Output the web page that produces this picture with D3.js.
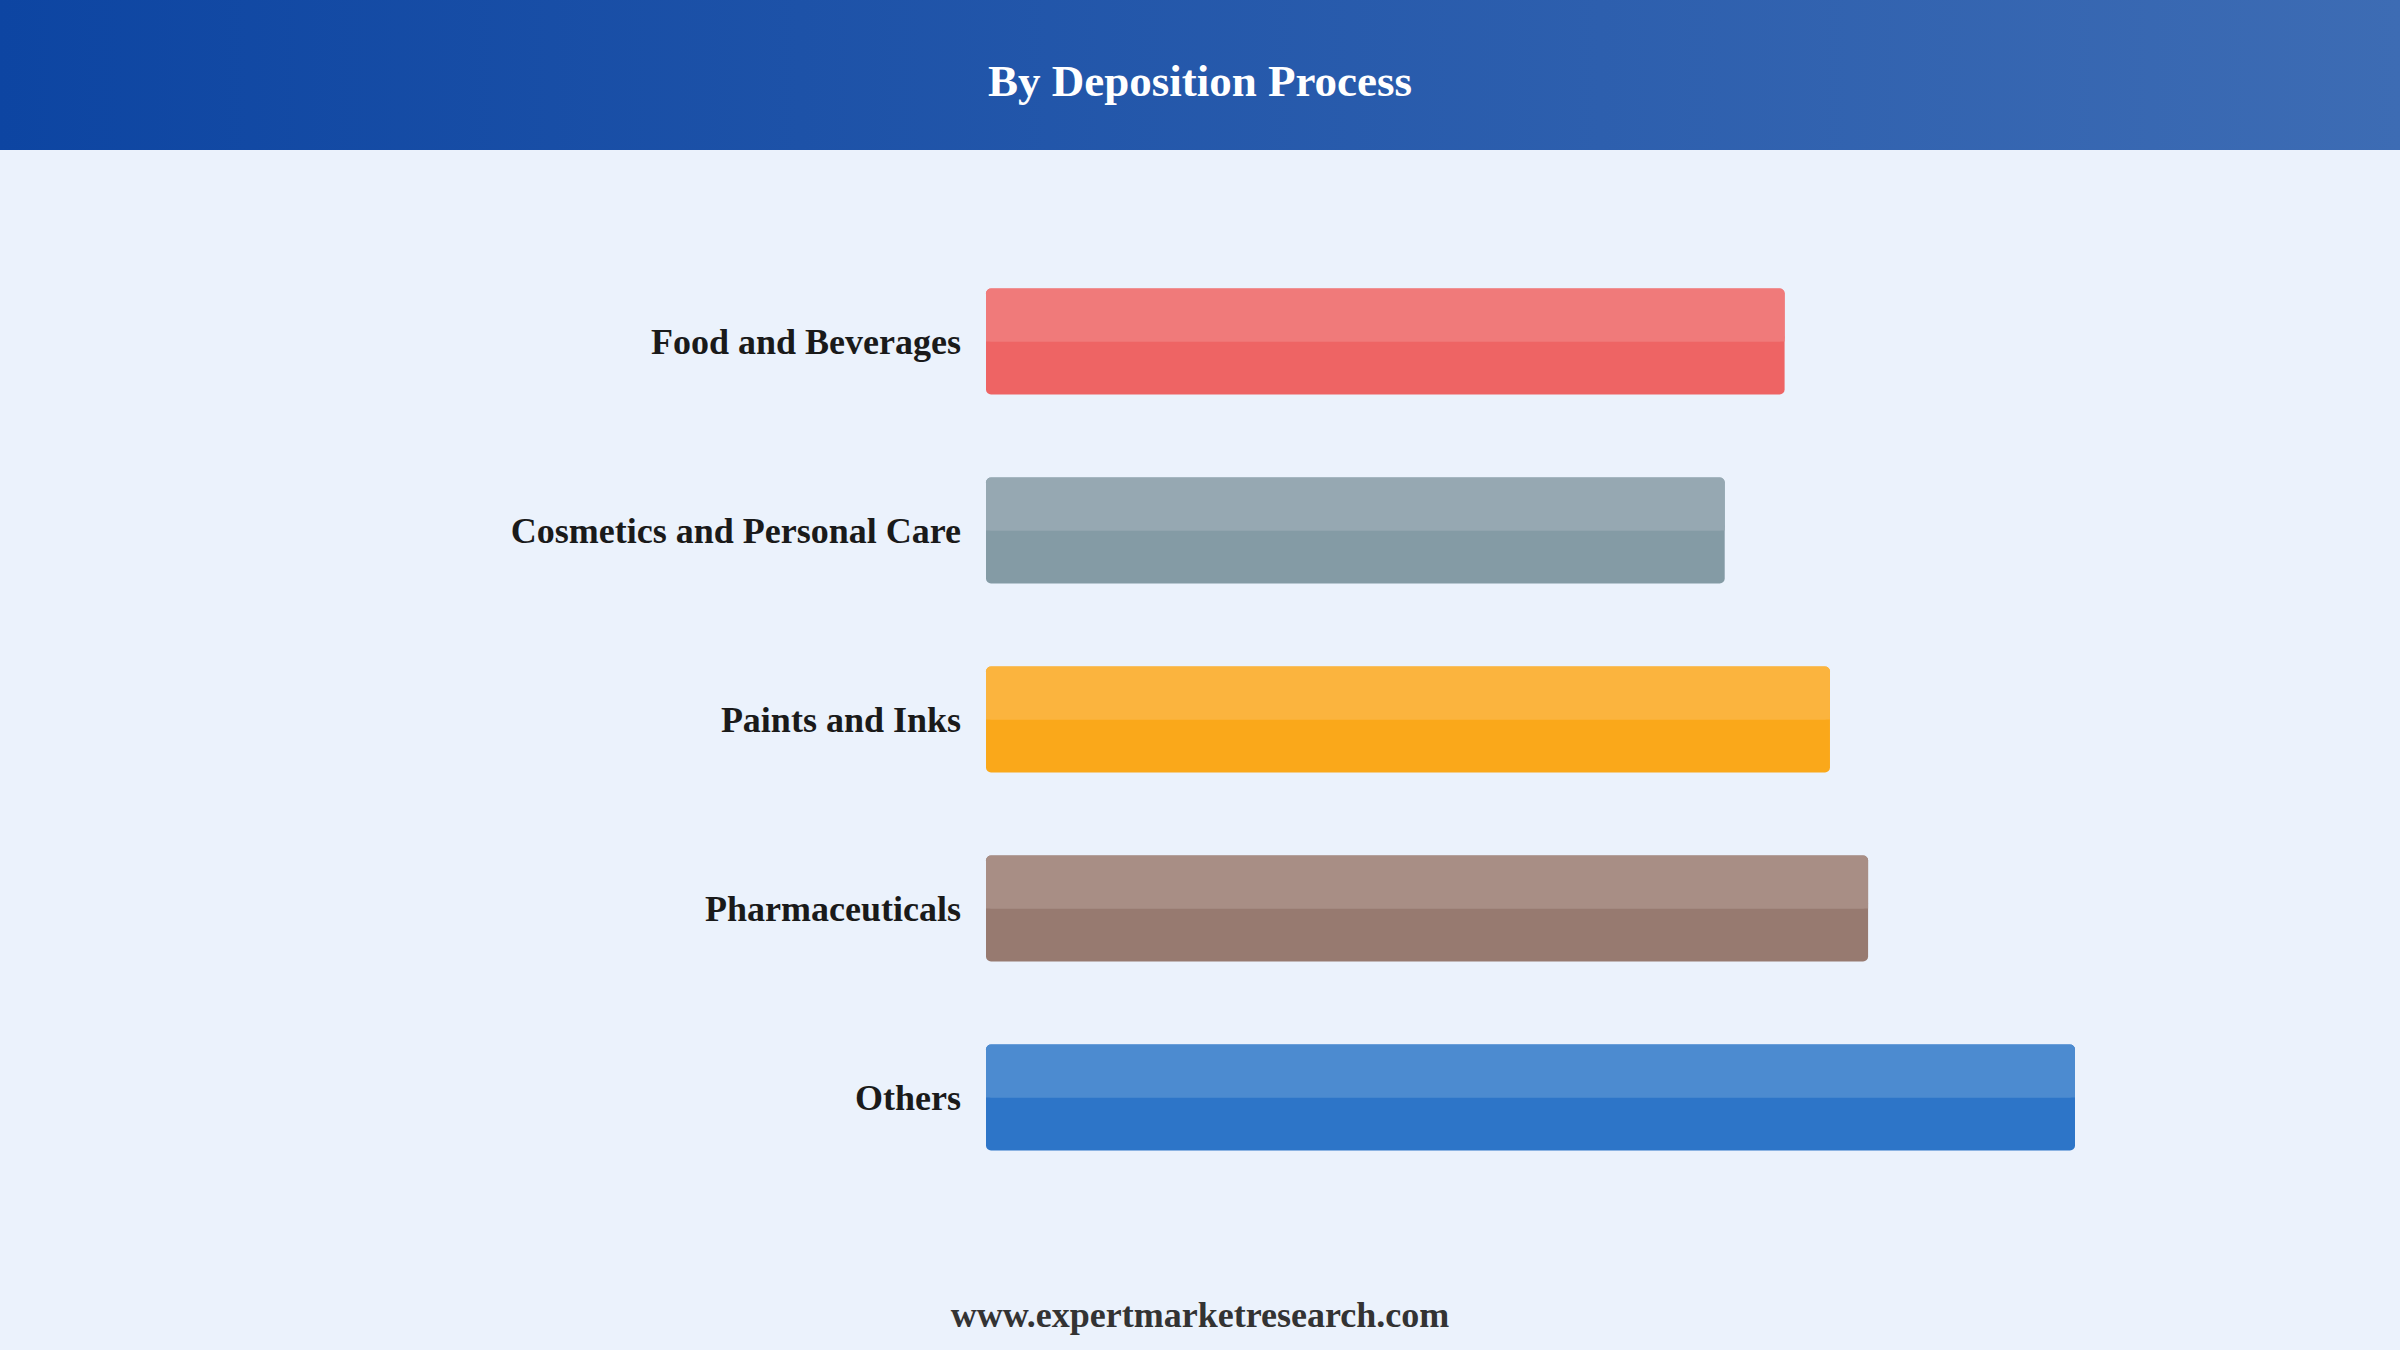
<!DOCTYPE html>
<html><head><meta charset="utf-8">
<script src="https://cdn.jsdelivr.net/npm/d3@7"></script>
<style>html,body{margin:0;padding:0;background:#EBF2FC;}svg{display:block;}</style>
</head><body>
<svg id="c" width="2400" height="1350"></svg>
<script>
const categories = ["Food and Beverages","Cosmetics and Personal Care","Paints and Inks","Pharmaceuticals","Others"];
const values = [22.0, 20.35, 23.25, 24.3, 30.0];
const topColors = ["#F07A7A","#96A8B2","#FBB43E","#A88E85","#4C8BD0"];
const baseColors = ["#EE6464","#849BA5","#FAA81A","#977A70","#2D75C8"];
const title = "By Deposition Process";
const footer = "www.expertmarketresearch.com";

const W = 2400, H = 1350;
const svg = d3.select("#c");
const defs = svg.append("defs");
const grad = defs.append("linearGradient").attr("id","hdr").attr("x1","0").attr("x2","1").attr("y1","0").attr("y2","0");
grad.append("stop").attr("offset","0%").attr("stop-color","#0D45A2");
grad.append("stop").attr("offset","100%").attr("stop-color","#3D6CB4");

svg.append("rect").attr("width",W).attr("height",H).attr("fill","#EBF2FC");
svg.append("rect").attr("width",W).attr("height",150).attr("fill","url(#hdr)");
svg.append("text").attr("x",W/2).attr("y",96).attr("text-anchor","middle")
  .attr("font-family","'Liberation Serif','Times New Roman',serif").attr("font-weight","bold")
  .attr("font-size",45).attr("fill","#fff").text(title);

const x = d3.scaleLinear().domain([0,30]).range([986,2075]);
const y = d3.scaleBand().domain(categories).range([247,1192]).paddingInner(0.44).paddingOuter(0.22);

const g = svg.append("g");
categories.forEach((c,i)=>{
  const x0 = x(0), w = x(values[i]) - x(0), y0 = y(c), h = y.bandwidth();
  g.append("rect").attr("x",x0).attr("y",y0).attr("width",w).attr("height",h).attr("rx",5).attr("fill",baseColors[i]);
  g.append("rect").attr("x",x0).attr("y",y0).attr("width",w).attr("height",h/2).attr("rx",5).attr("fill",topColors[i]);
  g.append("rect").attr("x",x0).attr("y",y0+h/2-5).attr("width",w).attr("height",5).attr("fill",topColors[i]);
  g.append("text").attr("x",961).attr("y",y0+h/2).attr("dy","0.35em").attr("text-anchor","end")
    .attr("font-family","'Liberation Serif','Times New Roman',serif").attr("font-weight","bold")
    .attr("font-size",36).attr("fill","#1a1a1a").text(c);
});

svg.append("text").attr("x",W/2).attr("y",1327).attr("text-anchor","middle")
  .attr("font-family","'Liberation Serif','Times New Roman',serif").attr("font-weight","bold")
  .attr("font-size",36).attr("fill","#333").text(footer);
</script>
</body></html>
